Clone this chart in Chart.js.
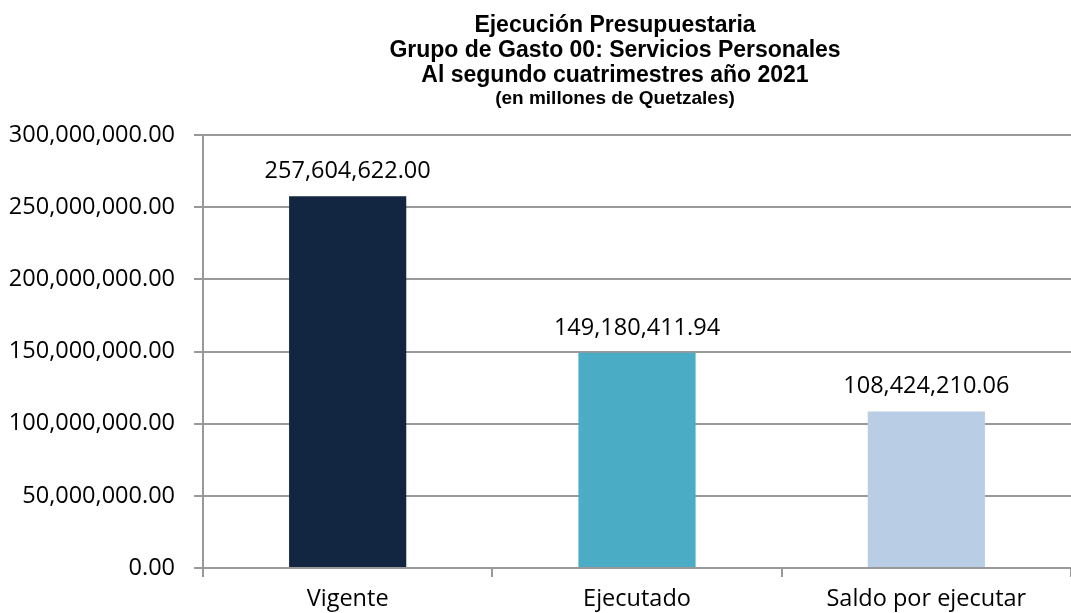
<!DOCTYPE html>
<html lang="es">
<head>
  <meta charset="UTF-8">
  <title>Ejecución Presupuestaria</title>
  <script src="https://cdn.jsdelivr.net/npm/chart.js"></script>
  <style>
    html, body { margin: 0; padding: 0; background: #ffffff; }
    #wrap { width: 1071px; height: 613px; }
  </style>
</head>
<body>
<div id="wrap"><canvas id="chart"></canvas></div>
<script>
  // datos
  const categories = ["Vigente", "Ejecutado", "Saldo por ejecutar"];
  const amounts = [257604622.00, 149180411.94, 108424210.06];
  const barColors = ["#132641", "#4bacc6", "#b9cde5"];
  const titleLines = [
    "Ejecución Presupuestaria",
    "Grupo de Gasto 00: Servicios Personales",
    "Al segundo cuatrimestres año 2021"
  ];
  const subtitleLine = "(en millones de Quetzales)";

  const gridColor = "#999999";
  const fmt = v => Number(v).toLocaleString("en-US", { minimumFractionDigits: 2, maximumFractionDigits: 2 });

  // título dibujado a mano (centrado sobre el área como en el original)
  const titlePlugin = {
    id: "titleText",
    afterDraw(chart) {
      const ctx = chart.ctx;
      ctx.save();
      ctx.fillStyle = "#000";
      ctx.textAlign = "center";
      ctx.textBaseline = "middle";
      ctx.font = "bold 23px 'Liberation Sans', Arial, sans-serif";
      titleLines.forEach((t, i) => ctx.fillText(t, 615, 26 + i * 25));
      ctx.font = "bold 19px 'Liberation Sans', Arial, sans-serif";
      ctx.fillText(subtitleLine, 615, 99);
      ctx.restore();
    }
  };

  // etiquetas de valor encima de cada barra
  const valueLabels = {
    id: "valueLabels",
    afterDatasetsDraw(chart) {
      const ctx = chart.ctx;
      const meta = chart.getDatasetMeta(0);
      ctx.save();
      ctx.fillStyle = "#000";
      ctx.font = "23.5px 'Open Sans', sans-serif";
      ctx.textAlign = "center";
      ctx.textBaseline = "bottom";
      meta.data.forEach((bar, i) => {
        ctx.fillText(fmt(amounts[i]), bar.x, bar.y - 13);
      });
      ctx.restore();
    }
  };

  new Chart(document.getElementById("chart"), {
    type: "bar",
    data: {
      labels: categories,
      datasets: [{
        data: amounts,
        backgroundColor: barColors,
        borderWidth: 0,
        categoryPercentage: 1,
        barPercentage: 0.405
      }]
    },
    options: {
      responsive: true,
      maintainAspectRatio: false,
      animation: false,
      layout: { padding: { top: 135, right: 0, left: 0, bottom: 0 } },
      plugins: {
        legend: { display: false },
        title: { display: false },
        tooltip: { enabled: false }
      },
      scales: {
        x: {
          offset: true,
          grid: {
            offset: true,
            drawOnChartArea: false,
            drawTicks: true,
            tickLength: 9,
            color: gridColor,
            lineWidth: 2
          },
          border: { display: true, color: gridColor, width: 2 },
          ticks: {
            color: "#000",
            padding: 8,
            font: { family: "'Open Sans', sans-serif", size: 23.5 }
          },
          afterFit(scale) { scale.height = 45; }
        },
        y: {
          min: 0,
          max: 300000000,
          grid: {
            color: gridColor,
            lineWidth: 2,
            tickLength: 9
          },
          border: { display: true, color: gridColor, width: 2 },
          ticks: {
            stepSize: 50000000,
            color: "#000",
            padding: 19,
            font: { family: "'Open Sans', sans-serif", size: 23.5 },
            callback: v => fmt(v)
          },
          afterFit(scale) { scale.width = 203; }
        }
      }
    },
    plugins: [titlePlugin, valueLabels]
  });
</script>
</body>
</html>
